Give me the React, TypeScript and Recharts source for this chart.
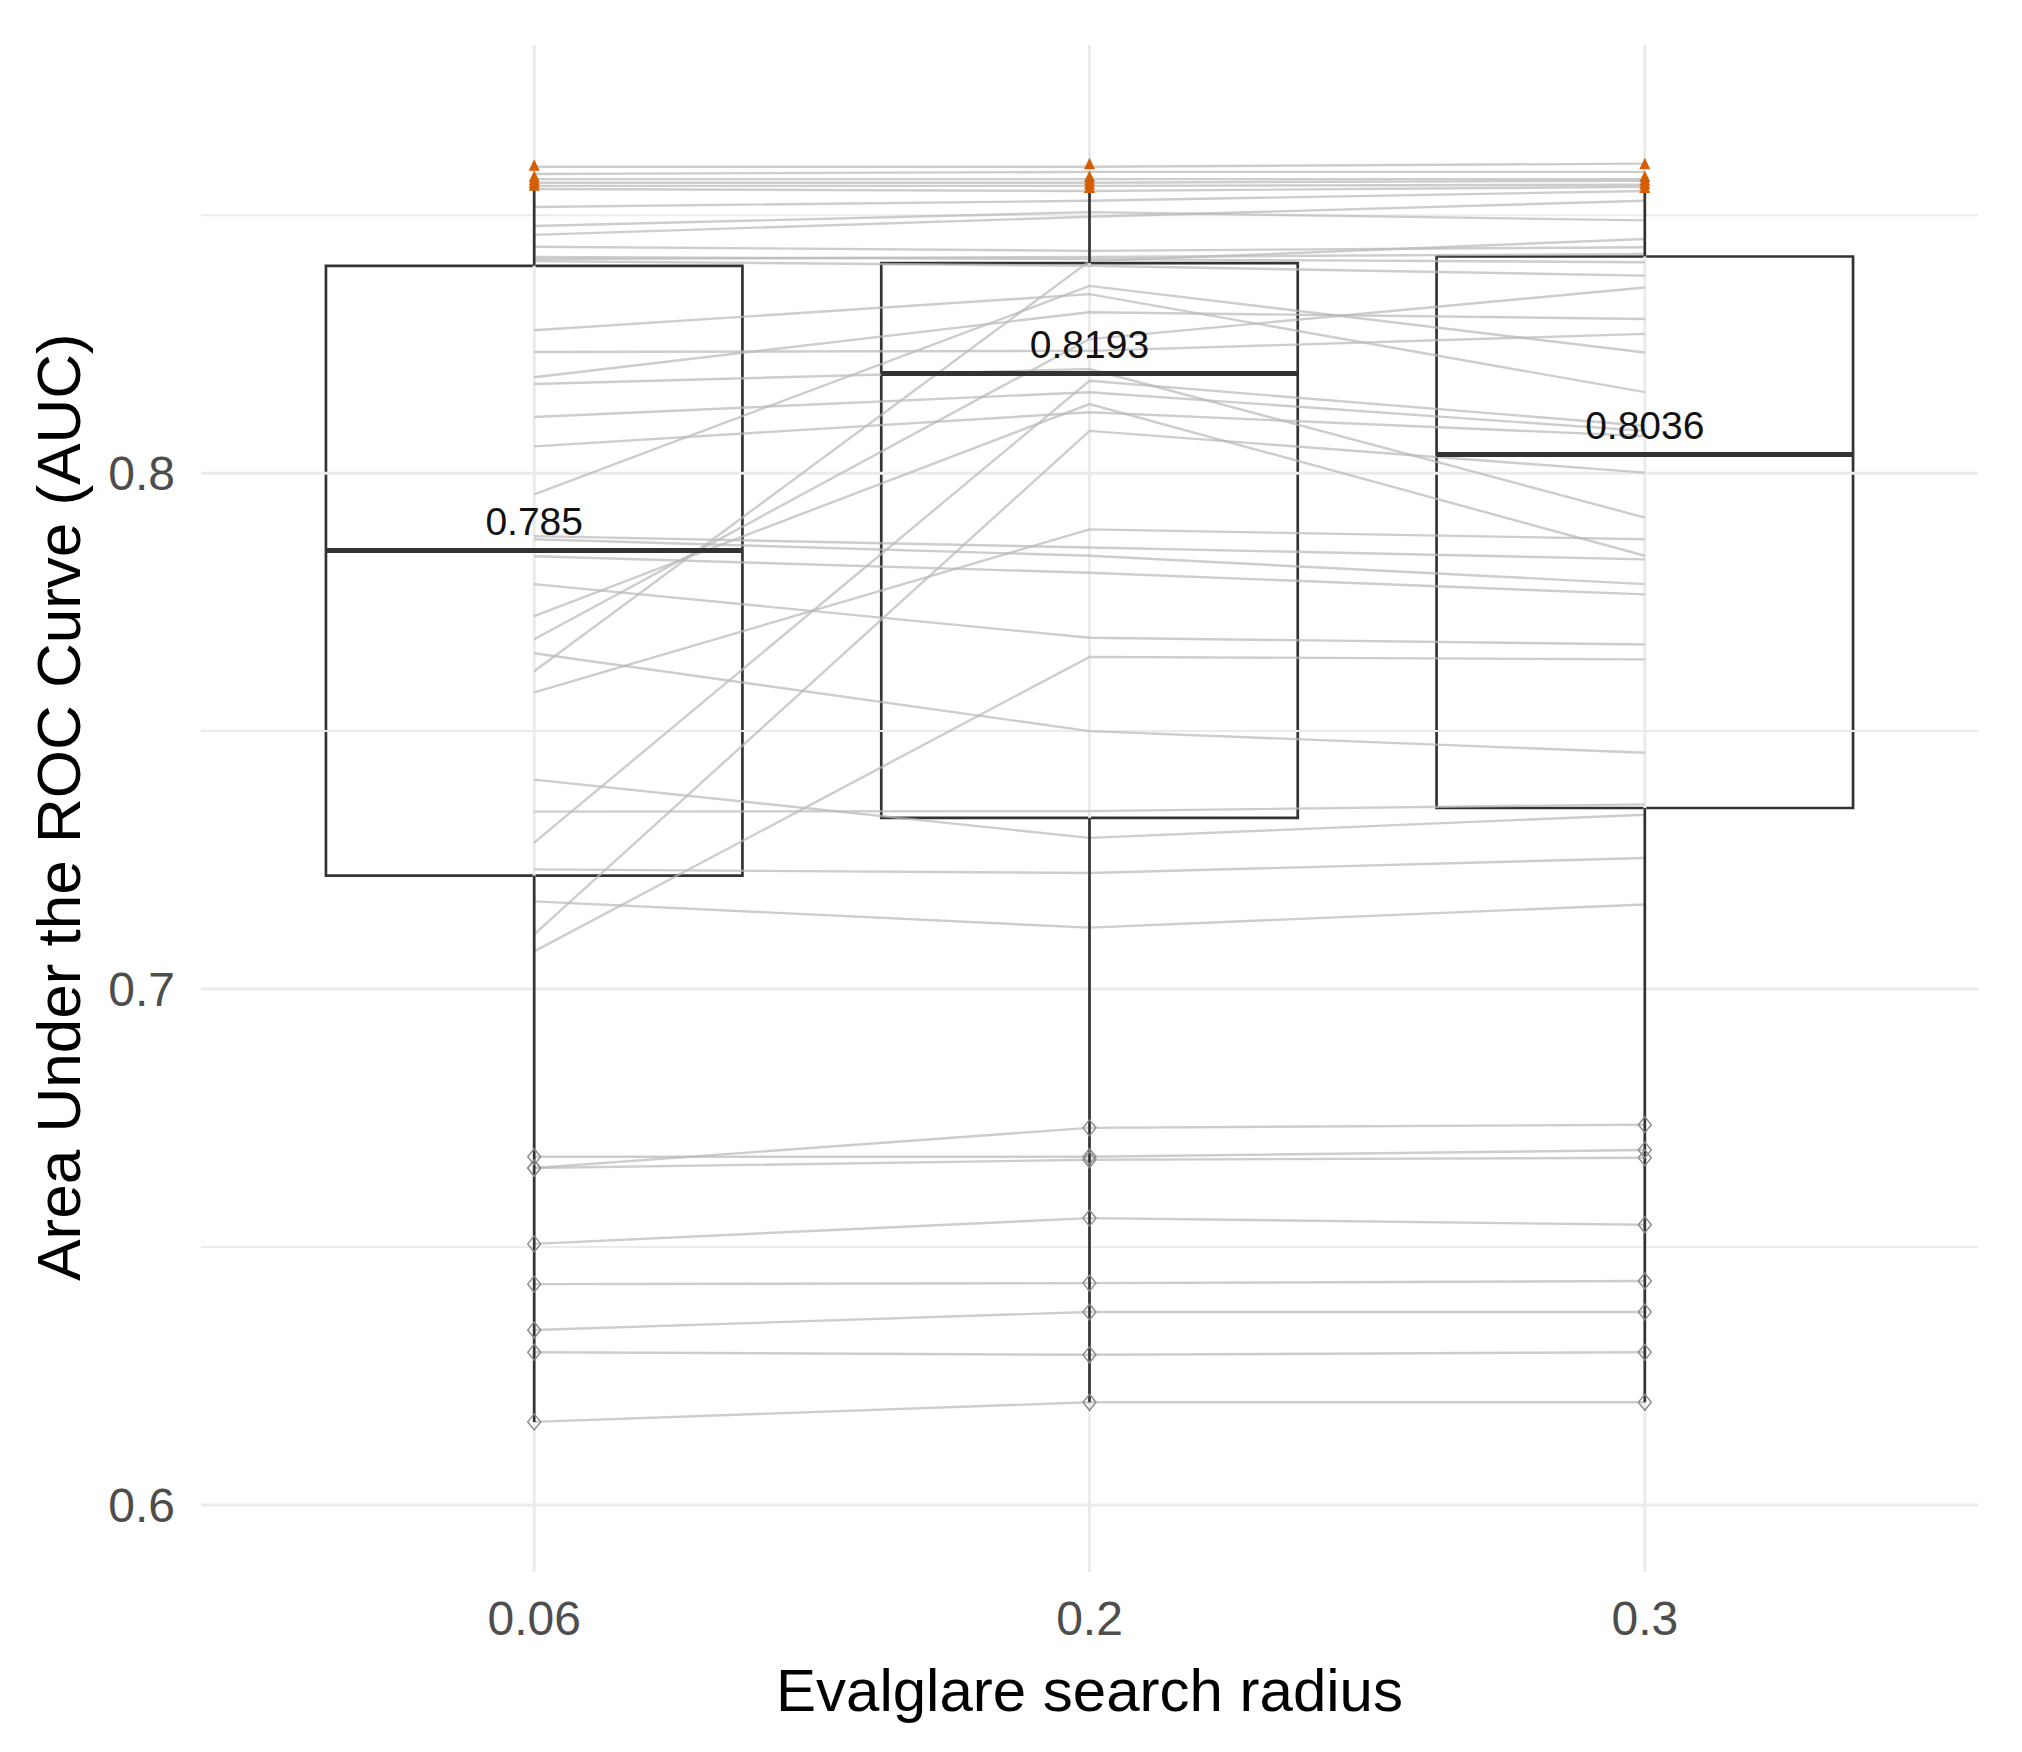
import {
  ComposedChart,
  Line,
  Scatter,
  XAxis,
  YAxis,
  ReferenceArea,
  ReferenceLine,
} from "recharts"

// evalglare search radius categories
const RADII = ["0.06", "0.2", "0.3"]

// box stats
const q1 = [0.722, 0.7332, 0.7351]
const medians = [0.785, 0.8193, 0.8036]
const q3 = [0.8402, 0.8407, 0.842]
const whiskerLo = [0.6161, 0.6199, 0.6199]
const whiskerHi = [0.8555, 0.8548, 0.8548]

// per-scene AUC, one entry per scene, same order in each array
const auc006 = [
  0.8594, 0.858, 0.857, 0.8563, 0.8557, 0.8551, 0.8516, 0.8479, 0.8462, 0.8439, 0.8419,
  0.8415, 0.8411, 0.8277, 0.8235, 0.8186, 0.8173, 0.8109, 0.8052, 0.7959, 0.7878, 0.7872,
  0.7839, 0.7785, 0.7723, 0.7678, 0.7651, 0.7616, 0.7575, 0.7406, 0.7344, 0.7284, 0.7232,
  0.717, 0.7106, 0.7073, 0.6653, 0.6675, 0.6653, 0.6506, 0.6428, 0.6339, 0.6296, 0.6161,
]
const auc02 = [
  0.8594, 0.8584, 0.857, 0.8563, 0.8557, 0.8547, 0.8528, 0.8506, 0.8497, 0.8431, 0.8415,
  0.8419, 0.8402, 0.8347, 0.8237, 0.8312, 0.8202, 0.8157, 0.8118, 0.8363, 0.7856, 0.784,
  0.7807, 0.7681, 0.8134, 0.826, 0.75, 0.8411, 0.7891, 0.7293, 0.7345, 0.8179, 0.7225,
  0.7119, 0.8082, 0.7644, 0.6731, 0.6675, 0.6669, 0.6556, 0.643, 0.6374, 0.6291, 0.6199,
]
const auc03 = [
  0.86, 0.8584, 0.857, 0.8567, 0.8559, 0.8555, 0.8547, 0.849, 0.8528, 0.8438, 0.8409,
  0.8425, 0.8383, 0.8157, 0.827, 0.8299, 0.7914, 0.8082, 0.8072, 0.8234, 0.7833, 0.7785,
  0.7765, 0.7668, 0.784, 0.836, 0.7458, 0.8454, 0.7872, 0.7338, 0.7358, 0.8092, 0.7254,
  0.7164, 0.8001, 0.7639, 0.6737, 0.6688, 0.6673, 0.6543, 0.6434, 0.6374, 0.6296, 0.6199,
]
// scenes drawn with open diamonds (the low group)
const lowScenes = [36, 37, 38, 39, 40, 41, 42, 43]

// orange triangles at the top of each radius
const orange006 = [0.8596, 0.8574, 0.8568, 0.8562, 0.8557]
const orange02 = [0.8599, 0.8574, 0.8567, 0.856, 0.8553]
const orange03 = [0.8599, 0.8574, 0.8567, 0.856, 0.8553]

const yTicks = [0.6, 0.7, 0.8]
const yMinor = [0.65, 0.75, 0.85]
const xTicks = [1, 2, 3]

const W = 2022
const H = 1752
const BOX_HALF = 0.375
const FONT = "'Liberation Sans', Arial, sans-serif"

const series = [auc006, auc02, auc03]
const scenes = auc006.map((_, i) => series.map((s, k) => ({ x: k + 1, y: s[i] })))
const lowPoints = lowScenes.flatMap((i) => series.map((s, k) => ({ x: k + 1, y: s[i] })))
const orangePoints = [orange006, orange02, orange03].flatMap((arr, k) =>
  arr.map((v) => ({ x: k + 1, y: v })),
)
const medianLabels = medians.map((m, k) => ({ x: k + 1, y: m, label: String(m) }))

function Triangle(p: any) {
  const { cx, cy } = p
  return (
    <path
      d={`M${cx},${cy - 6.5} L${cx + 5.5},${cy + 5} L${cx - 5.5},${cy + 5} Z`}
      fill="#D55E00"
      stroke="none"
    />
  )
}

function Diamond(p: any) {
  const { cx, cy } = p
  return (
    <path
      d={`M${cx},${cy - 8} L${cx + 6.5},${cy} L${cx},${cy + 8} L${cx - 6.5},${cy} Z`}
      fill="none"
      stroke="#8a8a8a"
      strokeWidth={1.4}
    />
  )
}

function MedianText(p: any) {
  const { cx, cy, payload } = p
  return (
    <text x={cx} y={cy - 16} textAnchor="middle" fontSize={39} fill="#111" fontFamily={FONT}>
      {payload.label}
    </text>
  )
}

export default function App() {
  return (
    <div
      style={{
        position: "absolute",
        left: 0,
        top: 0,
        width: W,
        height: H,
        background: "#fff",
        fontFamily: FONT,
      }}
    >
      <ComposedChart width={W} height={H} margin={{ top: 45, right: 44, bottom: 0, left: 0 }}>
        {yMinor.map((v) => (
          <ReferenceLine key={`mi${v}`} y={v} stroke="#EBEBEB" strokeWidth={2} />
        ))}
        {yTicks.map((v) => (
          <ReferenceLine key={`ma${v}`} y={v} stroke="#EBEBEB" strokeWidth={3} />
        ))}
        {xTicks.map((v) => (
          <ReferenceLine key={`vx${v}`} x={v} stroke="#EBEBEB" strokeWidth={3} />
        ))}
        <XAxis
          type="number"
          dataKey="x"
          domain={[0.4, 3.6]}
          ticks={xTicks}
          tickFormatter={(v) => RADII[v - 1]}
          axisLine={false}
          tickLine={false}
          tickSize={0}
          tickMargin={29}
          height={180}
          tick={{ fontSize: 48, fill: "#4D4D4D" }}
          allowDataOverflow
        />
        <YAxis
          type="number"
          dataKey="y"
          domain={[0.587, 0.883]}
          ticks={yTicks}
          tickFormatter={(v) => String(v)}
          axisLine={false}
          tickLine={false}
          tickSize={0}
          tickMargin={26}
          width={201}
          tick={{ fontSize: 48, fill: "#4D4D4D" }}
          allowDataOverflow
        />
        {scenes.map((d, i) => (
          <Line
            key={i}
            data={d}
            dataKey="y"
            stroke="#b8b8b8"
            strokeOpacity={0.7}
            strokeWidth={2.4}
            dot={false}
            activeDot={false}
            isAnimationActive={false}
          />
        ))}
        {RADII.map((_, k) => (
          <ReferenceLine
            key={`wl${k}`}
            segment={[
              { x: k + 1, y: whiskerLo[k] },
              { x: k + 1, y: q1[k] },
            ]}
            stroke="#333"
            strokeWidth={2.7}
          />
        ))}
        {RADII.map((_, k) => (
          <ReferenceLine
            key={`wh${k}`}
            segment={[
              { x: k + 1, y: q3[k] },
              { x: k + 1, y: whiskerHi[k] },
            ]}
            stroke="#333"
            strokeWidth={2.7}
          />
        ))}
        {RADII.map((_, k) => (
          <ReferenceArea
            key={`box${k}`}
            x1={k + 1 - BOX_HALF}
            x2={k + 1 + BOX_HALF}
            y1={q1[k]}
            y2={q3[k]}
            fill="none"
            fillOpacity={0}
            stroke="#333"
            strokeWidth={2.7}
          />
        ))}
        {RADII.map((_, k) => (
          <ReferenceLine
            key={`med${k}`}
            segment={[
              { x: k + 1 - BOX_HALF, y: medians[k] },
              { x: k + 1 + BOX_HALF, y: medians[k] },
            ]}
            stroke="#333"
            strokeWidth={5}
          />
        ))}
        <Scatter data={lowPoints} dataKey="y" shape={Diamond} isAnimationActive={false} />
        <Scatter data={orangePoints} dataKey="y" shape={Triangle} isAnimationActive={false} />
        <Scatter data={medianLabels} dataKey="y" shape={MedianText} isAnimationActive={false} />
      </ComposedChart>
      <svg
        width={W}
        height={H}
        style={{ position: "absolute", left: 0, top: 0, pointerEvents: "none" }}
      >
        <text x={1089.5} y={1711} textAnchor="middle" fontSize={60} fill="#000" fontFamily={FONT}>
          Evalglare search radius
        </text>
        <text
          transform="translate(80,807) rotate(-90)"
          textAnchor="middle"
          fontSize={62}
          fill="#000"
          fontFamily={FONT}
        >
          Area Under the ROC Curve (AUC)
        </text>
      </svg>
    </div>
  )
}
